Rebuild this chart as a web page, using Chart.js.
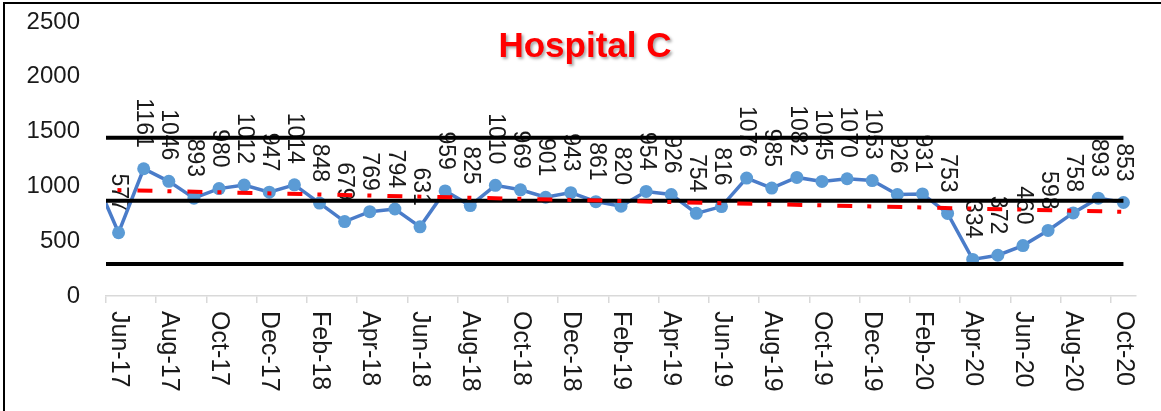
<!DOCTYPE html>
<html>
<head>
<meta charset="utf-8">
<script src="https://cdn.jsdelivr.net/npm/chart.js@4/dist/chart.umd.min.js"></script>
<style>
  html, body { margin: 0; padding: 0; background: #ffffff; }
  #wrap { width: 1161px; height: 411px; position: relative; }
</style>
</head>
<body>
<div id="wrap"><canvas id="chart" width="1161" height="411"></canvas></div>
<script>
// Monthly counts, Hospital C (May-17 sits just left of the visible range)
const months = [
  'May-17', 'Jun-17', 'Jul-17', 'Aug-17', 'Sep-17', 'Oct-17', 'Nov-17', 'Dec-17',
  'Jan-18', 'Feb-18', 'Mar-18', 'Apr-18', 'May-18', 'Jun-18', 'Jul-18', 'Aug-18', 'Sep-18', 'Oct-18', 'Nov-18', 'Dec-18',
  'Jan-19', 'Feb-19', 'Mar-19', 'Apr-19', 'May-19', 'Jun-19', 'Jul-19', 'Aug-19', 'Sep-19', 'Oct-19', 'Nov-19', 'Dec-19',
  'Jan-20', 'Feb-20', 'Mar-20', 'Apr-20', 'May-20', 'Jun-20', 'Jul-20', 'Aug-20', 'Sep-20', 'Oct-20'
];
const counts = [
  1107, 577, 1161, 1046, 893, 980, 1012, 947,
  1014, 848, 679, 769, 794, 631, 959, 825, 1010, 969, 901, 943,
  861, 820, 954, 926, 754, 816, 1076, 985, 1082, 1045, 1070, 1053,
  926, 931, 753, 334, 372, 460, 598, 758, 893, 853
];
const firstMonth = 'Jun-17';
const lastMonth = 'Oct-20';

// Control limits and linear trend end values
const upperLimit = 1444;
const centerLine = 868;
const lowerLimit = 292;
const trendStart = 971;
const trendEnd = 768;

const yTicks = [0, 500, 1000, 1500, 2000, 2500];
const titleText = 'Hospital C';

const FONT = "'Liberation Sans', Arial, sans-serif";
const PLOT_BOTTOM = 296;

function flatLine(v) {
  return [{ x: months[0], y: v }, { x: lastMonth, y: v }];
}

// Value labels, rotated to read top-to-bottom, ending just above each marker
const valueLabels = {
  id: 'valueLabels',
  beforeDatasetsDraw(chart) {
    const ctx = chart.ctx;
    const meta = chart.getDatasetMeta(4);
    const first = months.indexOf(firstMonth);
    ctx.save();
    ctx.font = '23px ' + FONT;
    ctx.fillStyle = '#1a1a1a';
    ctx.textAlign = 'right';
    ctx.textBaseline = 'middle';
    meta.data.forEach((pt, i) => {
      if (i < first) return;
      ctx.save();
      ctx.translate(pt.x, pt.y - 21);
      ctx.rotate(Math.PI / 2);
      ctx.fillText(String(counts[i]), 0, 0);
      ctx.restore();
    });
    ctx.restore();
  }
};

// Month labels every second month, rotated clockwise
const monthLabels = {
  id: 'monthLabels',
  afterDraw(chart) {
    const ctx = chart.ctx;
    const xs = chart.scales.x;
    const first = months.indexOf(firstMonth);
    ctx.save();
    ctx.font = '25px ' + FONT;
    ctx.fillStyle = '#1a1a1a';
    ctx.textAlign = 'left';
    ctx.textBaseline = 'middle';
    for (let i = first; i < months.length; i += 2) {
      const x = xs.getPixelForValue(i);
      ctx.save();
      ctx.translate(x, xs.top + 15);
      ctx.rotate(Math.PI / 2);
      ctx.fillText(months[i], 0, 0);
      ctx.restore();
    }
    ctx.restore();
  }
};

// Title over the plot and the frame edges
const decorations = {
  id: 'decorations',
  afterDraw(chart) {
    const ctx = chart.ctx;
    ctx.save();
    ctx.font = 'bold 35px ' + FONT;
    ctx.textAlign = 'center';
    ctx.textBaseline = 'alphabetic';
    ctx.shadowColor = 'rgba(0,0,0,0.35)';
    ctx.shadowOffsetX = 2;
    ctx.shadowOffsetY = 2;
    ctx.shadowBlur = 3;
    ctx.fillStyle = '#ff0000';
    ctx.fillText(titleText, 585, 57);
    ctx.restore();

    ctx.save();
    ctx.fillStyle = '#000000';
    ctx.fillRect(3, 2, 2, 409);
    ctx.fillRect(3, 2, 1158, 2);
    ctx.restore();
  }
};

new Chart(document.getElementById('chart'), {
  type: 'line',
  data: {
    labels: months,
    datasets: [
      {
        label: 'Trend',
        data: [{ x: months[0], y: trendStart }, { x: lastMonth, y: trendEnd }],
        borderColor: '#ff0000',
        borderWidth: 4,
        borderDash: [15, 15, 4, 16],
        borderDashOffset: 6,
        borderCapStyle: 'butt',
        pointRadius: 0,
        fill: false
      },
      {
        label: 'UCL',
        data: flatLine(upperLimit),
        borderColor: '#000000',
        borderWidth: 4,
        pointRadius: 0,
        fill: false
      },
      {
        label: 'Mean',
        data: flatLine(centerLine),
        borderColor: '#000000',
        borderWidth: 4,
        pointRadius: 0,
        fill: false
      },
      {
        label: 'LCL',
        data: flatLine(lowerLimit),
        borderColor: '#000000',
        borderWidth: 4,
        pointRadius: 0,
        fill: false
      },
      {
        label: 'Hospital C',
        data: counts,
        borderColor: '#4a7cc9',
        borderWidth: 3.5,
        tension: 0,
        pointRadius: 6.5,
        pointHoverRadius: 6.5,
        pointBackgroundColor: '#5b9bd5',
        pointBorderWidth: 0,
        fill: false
      }
    ]
  },
  options: {
    responsive: false,
    animation: false,
    devicePixelRatio: 1,
    layout: { padding: { left: 0, right: 25, top: 22, bottom: 0 } },
    plugins: {
      legend: { display: false },
      title: { display: false },
      tooltip: { enabled: false }
    },
    scales: {
      x: {
        type: 'category',
        min: firstMonth,
        max: lastMonth,
        offset: true,
        afterFit(s) { s.height = 411 - PLOT_BOTTOM; },
        ticks: { display: false, autoSkip: false },
        grid: {
          display: true,
          offset: true,
          drawOnChartArea: false,
          drawTicks: true,
          tickLength: 7,
          lineWidth: 1.5,
          color: (c) => (c.index !== undefined && c.index % 2 === 0) ? '#d9d9d9' : 'rgba(0,0,0,0)'
        },
        border: { display: true, color: '#d9d9d9', width: 1.5 }
      },
      y: {
        min: 0,
        max: 2500,
        afterFit(s) {
          s.width = 106;
          s.paddingTop = 14;
          s.paddingBottom = 14;
        },
        afterBuildTicks(s) { s.ticks = yTicks.map(v => ({ value: v })); },
        ticks: {
          padding: 26,
          color: '#1a1a1a',
          font: { family: FONT, size: 24 },
          callback: (v) => String(v)
        },
        grid: { display: false, drawTicks: false },
        border: { display: false }
      }
    }
  },
  plugins: [valueLabels, monthLabels, decorations]
});
</script>
</body>
</html>
